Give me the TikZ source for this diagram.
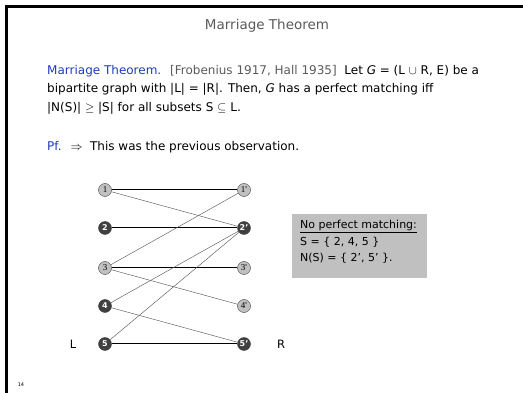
\documentclass[tikz,border=0pt]{standalone}
\usepackage{amsmath,amssymb}
\usepackage{fontspec}
\setmainfont{DejaVu Sans}
\newfontfamily\numfont{Liberation Serif}
\usepackage{tikz}
\usetikzlibrary{arrows.meta,calc,positioning}
\definecolor{slideblue}{RGB}{30,60,190}
\definecolor{slidegray}{RGB}{90,90,90}
\definecolor{boxgray}{RGB}{192,192,192}
\definecolor{darknode}{RGB}{64,64,64}

\begin{document}
\begin{tikzpicture}[x=1pt,y=-1pt,
  lite/.style={circle,draw=darknode,fill=boxgray,inner sep=0pt,minimum size=13pt,font=\numfont\fontsize{9}{9}\selectfont},
  dark/.style={circle,draw=darknode,fill=darknode,text=white,inner sep=0pt,minimum size=13pt,font=\fontsize{8}{8}\selectfont\bfseries},
  match/.style={line width=1pt},
  edge/.style={line width=0.45pt,slidegray}]
  \useasboundingbox (0,0) rectangle (523,393);
  % slide frame
  \draw[line width=2.2pt] (6.5,393) -- (6.5,6.5) -- (523,6.5);
  \node[slidegray,font=\fontsize{13.5}{15}\selectfont] (title) at (267,26) {Marriage Theorem};
  \node[anchor=north west,align=left,inner sep=0pt,font=\fontsize{12}{18.5}\selectfont] (thm) at (47,65)
    {{\color{slideblue}Marriage Theorem.} \ {\color{slidegray}[Frobenius 1917, Hall 1935]} \ Let \textit{G} = (L $\cup$ R, E) be a\\
     bipartite graph with |L| = |R|. Then, \textit{G} has a perfect matching iff\\
     |N(S)| $\geq$ |S| for all subsets S $\subseteq$ L.};
  \node[anchor=west,inner sep=0pt,font=\fontsize{12}{14}\selectfont] (pf) at (47,147)
    {{\color{slideblue}Pf.} \ $\Rightarrow$ \ This was the previous observation.};

  % left side
  \node[lite] (l1) at (105,190) {1};
  \node[dark] (l2) at (105,228) {2};
  \node[lite] (l3) at (105,268) {3};
  \node[dark] (l4) at (105,306) {4};
  \node[dark] (l5) at (105,344) {5};
  % right side
  \node[lite] (r1) at (244,190) {1'};
  \node[dark] (r2) at (244,228) {2'};
  \node[lite] (r3) at (244,268) {3'};
  \node[lite] (r4) at (244,306) {4'};
  \node[dark] (r5) at (244,344) {5'};
  \node[font=\fontsize{11.5}{12}\selectfont] (lL) at (73,344) {L};
  \node[font=\fontsize{11.5}{12}\selectfont] (lR) at (281,344) {R};

  % edges
  \draw[match] (l1) -- (r1);
  \draw[match] (l2) -- (r2);
  \draw[match] (l3) -- (r3);
  \draw[match] (l5) -- (r5);
  \draw[edge] (l1) -- (r2);
  \draw[edge] (l3) -- (r1);
  \draw[edge] (l3) -- (r4);
  \draw[edge] (l4) -- (r2);
  \draw[edge] (l4) -- (r5);
  \draw[edge] (l5) -- (r2);

  \node[fill=boxgray,anchor=north west,minimum width=135pt,minimum height=64pt,inner sep=0pt] (box) at (292,214) {};
  \node[anchor=north west,align=left,inner sep=0pt,font=\fontsize{11}{16.5}\selectfont] (msg) at (300,220)
    {\underline{No perfect matching:}\\ S = \{ 2, 4, 5 \}\\ N(S) = \{ 2', 5' \}.};
  \node[font=\fontsize{5}{5}\selectfont] (pg) at (21,385) {14};
\end{tikzpicture}
\end{document}
